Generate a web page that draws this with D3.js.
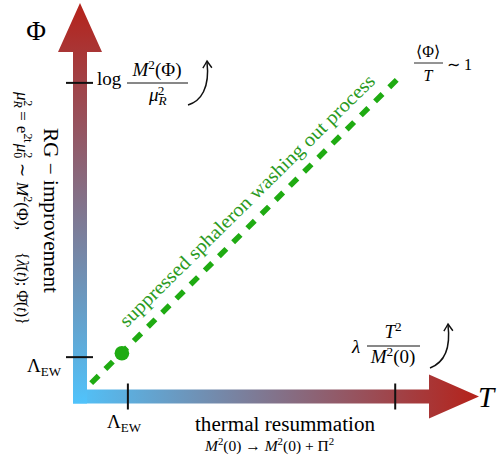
<!DOCTYPE html>
<html><head><meta charset="utf-8">
<script src="https://cdn.jsdelivr.net/npm/d3@7"></script>
<style>html,body{margin:0;padding:0;background:#fff}svg{display:block} svg text{font-family:"Liberation Serif","Times New Roman",serif;}</style>
</head><body>
<svg id="c" width="502" height="456"></svg>
<script>
// ---- data (diagram coordinates, 0..100 on each axis) ----
const axisLength = [0, 100];
const xTickValues = [12, 79];
const yTickValues = [10, 79.7];
const diagonalStart = [2.8, 3.4];
const diagonalEnd = [80.2, 81.3];
const dotPoint = [10.5, 11];
const axisNames = ["T", "Φ"];
const greenLabel = "suppressed sphaleron washing out process";

const svg = d3.select("#c");
const x = d3.scaleLinear().domain(axisLength).range([80, 479]);
const y = d3.scaleLinear().domain(axisLength).range([396.5, 3]);

const defs = svg.append("defs");
const cBlue = "#50c3fb", cRed = "#b5221a";
const gh = defs.append("linearGradient").attr("id","gh").attr("gradientUnits","userSpaceOnUse")
  .attr("x1", x(0)-7).attr("y1",0).attr("x2", x(100)).attr("y2",0);
gh.append("stop").attr("offset",0).attr("stop-color",cBlue);
gh.append("stop").attr("offset",1).attr("stop-color",cRed);
const gv = defs.append("linearGradient").attr("id","gv").attr("gradientUnits","userSpaceOnUse")
  .attr("x1",0).attr("y1", y(0)+7).attr("x2",0).attr("y2", y(100));
gv.append("stop").attr("offset",0).attr("stop-color",cBlue);
gv.append("stop").attr("offset",1).attr("stop-color",cRed);

const hw = 7, headHalf = 22, headLen = 50;
const hx0 = x(0) - hw, hy = y(0), hTip = x(100);
svg.append("path").attr("fill","url(#gh)")
  .attr("d", `M${hx0},${hy-hw}L${hTip-headLen},${hy-hw}L${hTip-headLen},${hy-headHalf}L${hTip},${hy}L${hTip-headLen},${hy+headHalf}L${hTip-headLen},${hy+hw}L${hx0},${hy+hw}Z`);
const vx = x(0), vy0 = y(0) + hw, vTip = y(100);
svg.append("path").attr("fill","url(#gv)")
  .attr("d", `M${vx-hw},${vy0}L${vx-hw},${vTip+headLen-1}L${vx-headHalf},${vTip+headLen-1}L${vx},${vTip}L${vx+headHalf},${vTip+headLen-1}L${vx+hw},${vTip+headLen-1}L${vx+hw},${vy0}Z`);

// ticks
svg.selectAll(".xt").data(xTickValues).join("line")
  .attr("x1", d=>x(d)).attr("x2", d=>x(d)).attr("y1", y(0)-13).attr("y2", y(0)+13)
  .attr("stroke","#111").attr("stroke-width",2);
svg.selectAll(".yt").data(yTickValues).join("line")
  .attr("y1", d=>y(d)).attr("y2", d=>y(d)).attr("x1", x(0)-14).attr("x2", x(0)+13)
  .attr("stroke","#111").attr("stroke-width",2);

// dashed diagonal
svg.append("line")
  .attr("x1", x(diagonalStart[0])).attr("y1", y(diagonalStart[1]))
  .attr("x2", x(diagonalEnd[0])).attr("y2", y(diagonalEnd[1]))
  .attr("stroke","#1fab12").attr("stroke-width",5.5).attr("stroke-dasharray","10.5,9.5");
svg.append("circle").attr("cx", x(dotPoint[0])).attr("cy", y(dotPoint[1])).attr("r",7.3).attr("fill","#1fab12");

// green text
svg.append("text").attr("transform",`translate(127,328) rotate(-44.6)`)
  .attr("font-size",19.5).attr("fill","#2a9a22")
  .attr("textLength",350).attr("lengthAdjust","spacingAndGlyphs").text(greenLabel);

function rich(sel, parts, size){
  parts.forEach(p=>{
    const t = sel.append("tspan").text(p.t);
    if(p.it) t.attr("font-style","italic");
    t.attr("font-size", size*(p.s || 1));
    if(p.dy) t.attr("dy", p.dy);
    if(p.dx) t.attr("dx", p.dx);
  });
}

// axis names
svg.append("text").attr("x",36).attr("y",40).attr("text-anchor","middle")
  .attr("font-size",27).text(axisNames[1]);
svg.append("text").attr("x",478).attr("y",407)
  .attr("font-size",29).attr("font-style","italic").text(axisNames[0]);

function lambdaEW(px, py){
  const t = svg.append("text").attr("x",px).attr("y",py).attr("font-size",19);
  t.append("tspan").text("Λ");
  t.append("tspan").attr("font-size",13).attr("dy",4).text("EW");
}
lambdaEW(27, 372);
lambdaEW(107, 428);

svg.append("text").attr("x",285).attr("y",431).attr("text-anchor","middle")
  .attr("font-size",20).attr("textLength",180).attr("lengthAdjust","spacingAndGlyphs")
  .text("thermal resummation");
{
  const t = svg.append("text").attr("x",205).attr("y",451).attr("font-size",15.5);
  rich(t, [{t:"M",it:1},{t:"2",s:.7,dy:-6},{t:"(0) → ",dy:6},{t:"M",it:1},{t:"2",s:.7,dy:-6},{t:"(0) + Π",dy:6},{t:"2",s:.7,dy:-6}], 15.5);
}

// log M^2(Phi)/mu_R^2
svg.append("text").attr("x",97).attr("y",85).attr("font-size",19).text("log");
{
  const t = svg.append("text").attr("x",157).attr("y",76).attr("text-anchor","middle").attr("font-size",19);
  rich(t, [{t:"M",it:1},{t:"2",s:.7,dy:-7},{t:"(Φ)",dy:7}], 19);
  svg.append("line").attr("x1",127).attr("x2",188).attr("y1",83).attr("y2",83).attr("stroke","#111").attr("stroke-width",1);
  const d = svg.append("text").attr("x",149).attr("y",101).attr("font-size",19);
  rich(d, [{t:"μ",it:1},{t:"R",it:1,s:.7,dy:4},{t:"2",s:.7,dy:-10,dx:-9}], 19);
}
// <Phi>/T ~ 1
{
  svg.append("text").attr("x",428).attr("y",57).attr("text-anchor","middle").attr("font-size",16).text("⟨Φ⟩");
  svg.append("line").attr("x1",414).attr("x2",443).attr("y1",63).attr("y2",63).attr("stroke","#111").attr("stroke-width",0.9);
  svg.append("text").attr("x",428).attr("y",81).attr("text-anchor","middle").attr("font-size",16).attr("font-style","italic").text("T");
  svg.append("text").attr("x",447).attr("y",70).attr("font-size",16).text("∼ 1");
}
// lambda T^2/M^2(0)
{
  svg.append("text").attr("x",352).attr("y",353).attr("font-size",19).attr("font-style","italic").text("λ");
  const n = svg.append("text").attr("x",393).attr("y",338).attr("text-anchor","middle").attr("font-size",19);
  rich(n, [{t:"T",it:1},{t:"2",s:.7,dy:-7}], 19);
  svg.append("line").attr("x1",367).attr("x2",420).attr("y1",346).attr("y2",346).attr("stroke","#111").attr("stroke-width",1);
  const d = svg.append("text").attr("x",393).attr("y",363).attr("text-anchor","middle").attr("font-size",19);
  rich(d, [{t:"M",it:1},{t:"2",s:.7,dy:-7},{t:"(0)",dy:7}], 19);
}

// curved arrows
function curved(d, tip, ang){
  svg.append("path").attr("d",d).attr("fill","none").attr("stroke","#111").attr("stroke-width",1.5);
  svg.append("path").attr("transform",`translate(${tip[0]},${tip[1]}) rotate(${ang})`)
    .attr("d","M-4.5,7 Q-1.5,2.5 0,0 Q1.5,2.5 4.5,7").attr("fill","none").attr("stroke","#111").attr("stroke-width",1.4);
}
curved("M188,105 C201,101 210,88 207,62", [207,61], -3);
curved("M430,368 C443,363 451,350 448,325", [448,324], -3);

// left rotated text
{
  const g = svg.append("g").attr("transform","translate(43.5,128) rotate(90)");
  g.append("text").attr("font-size",20.5).attr("textLength",165).attr("lengthAdjust","spacingAndGlyphs")
    .text("RG − improvement");
  const g2 = svg.append("g").attr("transform","translate(16.5,92) rotate(90)");
  const fs = 17;
  const t = g2.append("text").attr("font-size",fs);
  rich(t, [{t:"μ",it:1},{t:"R",it:1,s:.7,dy:3},{t:"2",s:.7,dy:-10,dx:-7.5},{t:"=",dy:7,dx:5},{t:"e",dx:5},{t:"2t",s:.7,dy:-7},
           {t:"μ",it:1,dy:7,dx:1},{t:"0",s:.7,dy:3},{t:"2",s:.7,dy:-10,dx:-6},{t:"∼",dy:7,dx:5},{t:"M",it:1,dx:5},{t:"2",s:.7,dy:-7},{t:"(Φ),",dy:7}], fs);
  const t2 = g2.append("text").attr("x",160).attr("font-size",16);
  rich(t2, [{t:"{"},{t:"λ̄",it:1},{t:"("},{t:"t",it:1},{t:"); "},{t:"Φ̄"},{t:"("},{t:"t",it:1},{t:")}"}], 16);
}
</script>
</body></html>
